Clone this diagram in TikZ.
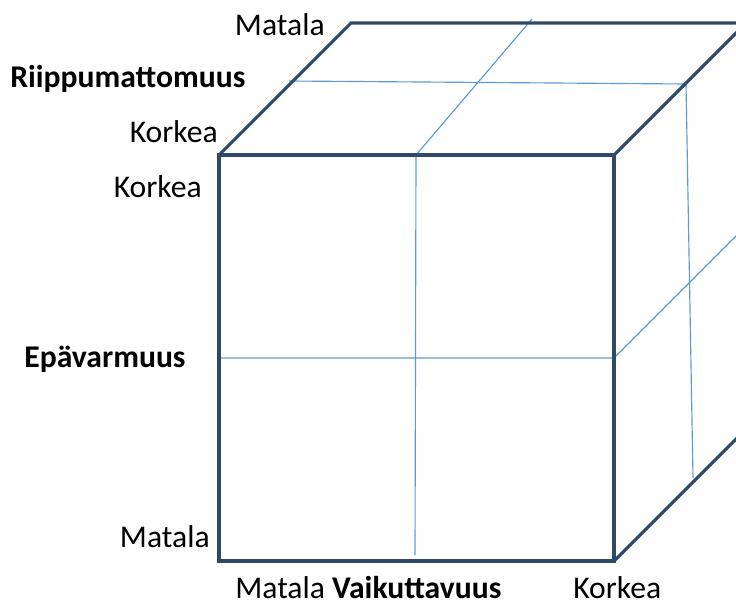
\documentclass[tikz,border=0pt]{standalone}
\usepackage{fontspec}
\setmainfont{Carlito}
\usepackage{xcolor}
\usetikzlibrary{positioning}

\definecolor{cubeedge}{HTML}{2F4A68}
\definecolor{gridblue}{HTML}{5B9BD5}

\tikzset{
  edge/.style={cubeedge,line width=1.8pt,line join=miter},
  grid/.style={gridblue,line width=0.65pt},
  lbl/.style={inner sep=0pt,font=\fontsize{18}{21}\selectfont},
}

\begin{document}
\begin{tikzpicture}[x=0.02cm,y=-0.02cm]
\clip (0,0) rectangle (736,605);
% corners of the cube
\coordinate (fbl) at (219,561);
\coordinate (fbr) at (614,561);
\coordinate (ftr) at (614,155);
\coordinate (ftl) at (219,155);
\coordinate (btl) at (351,23);
\coordinate (btr) at (746,23);
\coordinate (bbr) at (746,429);
% split lines
\coordinate (topl) at (289,81);
\coordinate (topr) at (686,84);
\coordinate (fmt) at (416,155);
\coordinate (fmb) at (415,555);
\coordinate (topb) at (532,19);
\coordinate (fml) at (219,358);
\coordinate (fmr) at (614,358);
\coordinate (rmr) at (746,226);
\coordinate (rvb) at (693,478);
\draw[grid] (topl) -- (topr);
\draw[grid] (fmt) -- (topb);
\draw[grid] (fmt) -- (fmb);
\draw[grid] (fml) -- (fmr) -- (rmr);
\draw[grid] (topr) -- (rvb);
% edges
\draw[edge] (ftl) rectangle (fbr);
\draw[edge] (ftl) -- (btl) -- (btr) -- (bbr) -- (fbr);
\draw[edge] (ftr) -- (btr);
% axis labels
\node[lbl,anchor=base east] (riplo) at (325,35) {Matala};
\node[lbl,anchor=base west] (rip) at (10,87) {\textbf{Riippumattomuus}};
\node[lbl,anchor=base east] (riphi) at (218,142) {Korkea};
\node[lbl,anchor=base east] (epahi) at (202,197) {Korkea};
\node[lbl,anchor=base west] (epa) at (24,367) {\textbf{Epävarmuus}};
\node[lbl,anchor=base east] (epalo) at (210,547) {Matala};
\node[lbl,anchor=base west] (vai) at (235,598) {Matala \textbf{Vaikuttavuus}};
\node[lbl,anchor=base west] (vaihi) at (573,598) {Korkea};
\end{tikzpicture}
\end{document}
